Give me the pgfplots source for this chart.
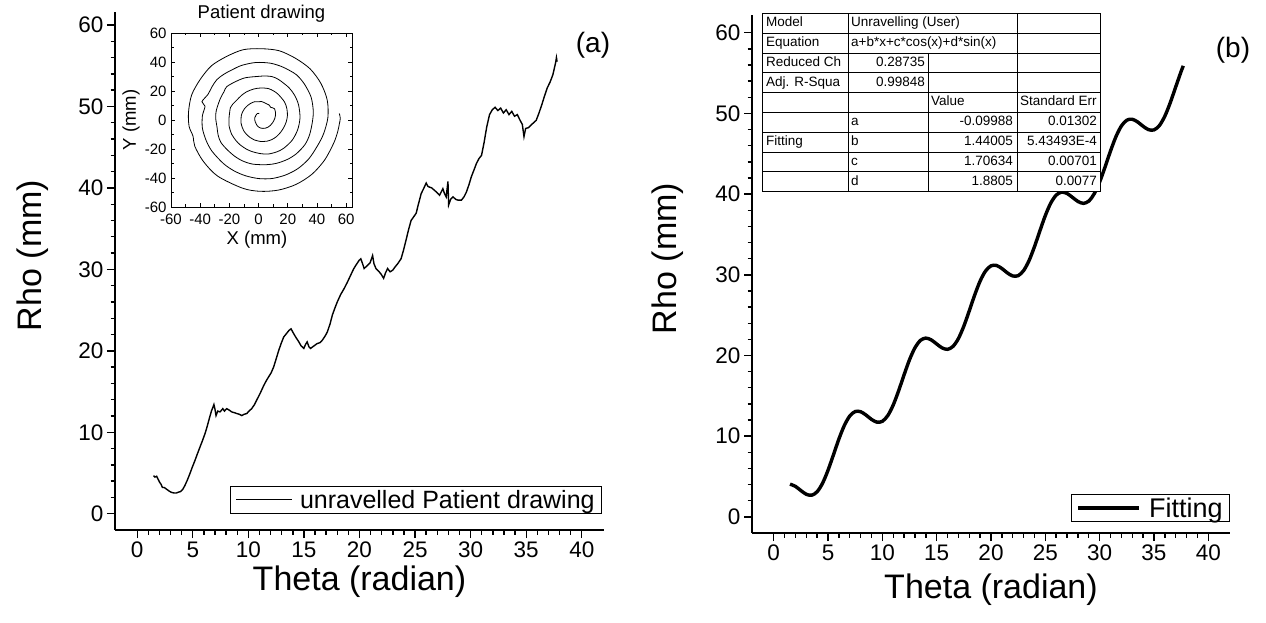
\documentclass[border=0pt]{standalone}
\usepackage{fontspec}
\setmainfont{Liberation Sans}
\usepackage{pgfplots}
\pgfplotsset{compat=1.18}
\usepackage{pgfplotstable}

\pgfplotstableread[row sep=\\]{
theta rho\\
1.47 4.67\\ 1.60 4.50\\ 1.75 4.60\\ 1.87 4.25\\ 2.02 3.85\\ 2.15 3.60\\ 2.26 3.24\\ 2.45 3.20\\
2.62 3.03\\ 2.85 2.80\\ 3.07 2.62\\ 3.30 2.55\\ 3.53 2.54\\ 3.70 2.65\\ 3.89 2.71\\ 4.10 3.00\\
4.28 3.44\\ 4.50 4.10\\ 4.73 4.88\\ 4.95 5.70\\ 5.19 6.52\\ 5.40 7.30\\ 5.64 8.16\\ 5.85 8.90\\
6.09 9.80\\ 6.25 10.5\\ 6.39 11.2\\ 6.55 12.0\\ 6.70 12.7\\ 6.82 13.1\\ 6.90 13.4\\ 7.00 12.8\\
7.09 12.05\\ 7.25 12.6\\ 7.45 12.5\\ 7.70 12.9\\ 7.85 12.6\\ 8.05 12.9\\ 8.30 12.7\\ 8.50 12.5\\
8.75 12.4\\ 8.96 12.3\\ 9.20 12.2\\ 9.41 12.05\\ 9.60 12.2\\ 9.86 12.3\\ 10.05 12.6\\ 10.30 12.9\\
10.55 13.4\\ 10.77 14.0\\ 11.07 14.8\\ 11.37 15.7\\ 11.60 16.3\\ 11.82 16.8\\ 12.05 17.3\\ 12.27 18.0\\
12.50 19.0\\ 12.72 20.0\\ 12.95 20.9\\ 13.18 21.7\\ 13.48 22.2\\ 13.65 22.5\\ 13.84 22.7\\ 14.08 22.1\\
14.30 21.6\\ 14.54 21.1\\ 14.75 20.6\\ 14.99 20.3\\ 15.15 20.8\\ 15.29 21.1\\ 15.45 20.5\\ 15.60 20.3\\
15.90 20.6\\ 16.20 20.9\\ 16.45 21.0\\ 16.65 21.3\\ 16.90 21.8\\ 17.10 22.3\\ 17.35 23.3\\ 17.56 24.4\\
17.80 25.3\\ 18.00 26.0\\ 18.30 26.9\\ 18.60 27.6\\ 18.90 28.4\\ 19.21 29.3\\ 19.45 30.0\\ 19.67 30.5\\
19.96 31.1\\ 20.12 31.3\\ 20.30 30.6\\ 20.42 30.1\\ 20.72 30.5\\ 20.95 30.8\\ 21.18 31.7\\ 21.30 30.7\\
21.48 30.1\\ 21.77 29.7\\ 21.95 29.4\\ 22.17 28.9\\ 22.35 29.6\\ 22.53 30.1\\ 22.75 29.7\\ 22.99 29.9\\
23.20 30.3\\ 23.44 30.7\\ 23.74 31.3\\ 23.95 32.3\\ 24.19 33.6\\ 24.40 34.8\\ 24.64 36.0\\ 24.85 36.4\\
25.10 36.9\\ 25.30 38.0\\ 25.55 39.3\\ 25.80 40.0\\ 26.00 40.6\\ 26.15 40.2\\ 26.30 40.1\\ 26.50 40.0\\
26.75 39.7\\ 27.00 39.4\\ 27.20 39.1\\ 27.35 39.5\\ 27.50 39.9\\ 27.65 39.3\\ 27.80 38.9\\ 27.96 40.8\\
28.02 37.9\\ 28.20 38.6\\ 28.42 38.9\\ 28.65 38.6\\ 28.87 38.5\\ 29.17 38.5\\ 29.40 38.9\\ 29.62 39.5\\
29.85 40.4\\ 30.07 41.4\\ 30.30 42.2\\ 30.52 43.0\\ 30.75 43.6\\ 30.98 44.0\\ 31.20 45.5\\ 31.45 47.5\\
31.70 49.0\\ 31.95 49.6\\ 32.20 49.9\\ 32.45 49.5\\ 32.70 49.8\\ 32.95 49.2\\ 33.20 49.6\\ 33.45 49.0\\
33.70 49.4\\ 33.95 48.8\\ 34.20 49.0\\ 34.45 48.3\\ 34.65 47.8\\ 34.80 46.3\\ 34.95 47.3\\ 35.20 47.4\\
35.50 47.8\\ 35.90 48.3\\ 36.15 49.2\\ 36.40 50.2\\ 36.65 51.3\\ 36.90 52.3\\ 37.15 53.0\\ 37.40 53.9\\
37.55 54.8\\ 37.65 55.4\\ 37.72 56.0\\ 37.78 55.5\\
}\rawdata

\pgfplotstableread[row sep=\\]{
theta rho\\
1.5 4.056\\ 2.0 3.780\\ 2.5 3.259\\ 3.0 2.798\\ 3.5 2.683\\ 4.0 3.122\\ 4.5 4.184\\ 5.0 5.790\\
5.5 7.703\\ 6.0 9.655\\ 6.5 11.329\\ 7.0 12.501\\ 7.5 13.056\\ 8.0 13.032\\ 8.5 12.615\\ 9.0 12.080\\
9.5 11.737\\ 10.0 11.845\\ 10.5 12.552\\ 11.0 13.866\\ 11.5 15.640\\ 12.0 17.613\\ 12.5 19.480\\ 13.0 20.959\\
13.5 21.867\\ 14.0 22.156\\ 14.5 21.934\\ 15.0 21.427\\ 15.5 20.939\\ 16.0 20.765\\ 16.5 21.124\\ 17.0 22.103\\
17.5 23.641\\ 18.0 25.537\\ 18.5 27.501\\ 19.0 29.231\\ 19.5 30.477\\ 20.0 31.113\\ 20.5 31.160\\ 21.0 30.781\\
21.5 30.244\\ 22.0 29.857\\ 22.5 29.894\\ 23.0 30.523\\ 23.5 31.756\\ 24.0 33.481\\ 24.5 35.445\\ 25.0 37.346\\
25.5 38.888\\ 26.0 39.879\\ 26.5 40.247\\ 27.0 40.081\\ 27.5 39.597\\ 28.0 39.091\\ 28.5 38.854\\ 29.0 39.135\\
29.5 40.035\\ 30.0 41.505\\ 30.5 43.368\\ 31.0 45.342\\ 31.5 47.121\\ 32.0 48.442\\ 32.5 49.162\\ 33.0 49.281\\
33.5 48.942\\ 34.0 48.410\\ 34.5 47.988\\ 35.0 47.956\\ 35.5 48.498\\ 36.0 49.660\\ 36.5 51.330\\ 37.0 53.276\\
37.5 55.202\\ 37.7 55.896\\
}\fitdata

\pgfplotsset{
  mainax/.style={
    scale only axis, anchor=south west,
    xmin=-2, xmax=42, ymin=-2,
    axis x line*=bottom, axis y line*=left,
    axis line style={line width=1.6pt, black},
    tick align=outside,
    every tick/.style={line width=1.4pt, black},
    major tick length=8pt, minor tick length=4.5pt,
    xtick={0,5,...,40}, ytick={0,10,...,60},
    minor x tick num=4, minor y tick num=4,
    ticklabel style={font=\fontsize{22.5}{22.5}\selectfont},
    /pgf/number format/assume math mode=true,
    label style={font=\fontsize{34}{34}\selectfont},
    xlabel={Theta (radian)}, ylabel={Rho (mm)},
    legend cell align=left,
  },
}

\begin{document}
\begin{tikzpicture}
\useasboundingbox (0,0) rectangle (1266pt,622pt);

% ---------- panel (a) ----------
\begin{axis}[mainax, at={(115pt,92pt)}, width=489pt, height=518pt, ymax=61.6,
  ylabel style={at={(axis description cs:-0.168,0.53)}, anchor=center},
  xlabel style={at={(axis description cs:0.5,-0.10)}, anchor=center},
  legend style={at={(0.996,0.031)}, anchor=south east, draw=black, line width=0.8pt,
    fill=white, font=\fontsize{25}{25}\selectfont, inner xsep=5pt, inner ysep=2pt},
  legend image code/.code={\draw[#1] (0pt,0pt) -- (56pt,0pt); \path (61pt,0pt);}]
\addplot[black, line width=1.4pt] table[x=theta, y=rho] {\rawdata};
\addlegendentry{unravelled Patient drawing}
\end{axis}

% ---------- inset ----------
\begin{axis}[at={(171pt,415pt)}, anchor=south west, scale only axis,
  width=181pt, height=174pt,
  xmin=-60, xmax=64, ymin=-60, ymax=60,
  xtick={-60,-40,...,60}, ytick={-60,-40,...,60}, minor tick num=1,
  tick align=inside, major tick length=4pt, minor tick length=2.5pt,
  axis line style={line width=0.8pt, black},
  every tick/.style={line width=0.6pt, black},
  ticklabel style={font=\fontsize{15}{15}\selectfont},
  xticklabel style={yshift=-3pt},
  yticklabel style={xshift=-1pt},
  /pgf/number format/assume math mode=true,
  title={Patient drawing},
  title style={font=\fontsize{18.5}{18.5}\selectfont, at={(0.5,1)}, anchor=base, yshift=8pt},
  xlabel={X (mm)}, ylabel={Y (mm)},
  label style={font=\fontsize{18.5}{18.5}\selectfont},
  xlabel style={at={(axis description cs:0.475,-0.19)}, anchor=center},
  ylabel style={at={(axis description cs:-0.22,0.5)}, anchor=center}]
\addplot[black, line width=0.8pt, smooth] table[
  x expr={\thisrow{rho}*cos(deg(\thisrow{theta}))},
  y expr={\thisrow{rho}*sin(deg(\thisrow{theta}))}] {\rawdata};
\end{axis}

% ---------- panel (b) ----------
\begin{axis}[mainax, at={(752pt,89pt)}, width=478pt, height=518pt, ymax=62.2,
  ylabel style={at={(axis description cs:-0.176,0.53)}, anchor=center},
  xlabel style={at={(axis description cs:0.5,-0.11)}, anchor=center},
  legend style={at={(1.0,0.021)}, anchor=south east, draw=black, line width=0.8pt,
    fill=white, font=\fontsize{27}{27}\selectfont, inner xsep=5pt, inner ysep=1pt},
  legend image code/.code={\draw[#1] (0pt,0pt) -- (61pt,0pt); \path (67pt,0pt);}]
\addplot[black, line width=3.4pt, smooth] table[x=theta, y=rho] {\fitdata};
\addlegendentry{Fitting}
\end{axis}

\node[font=\fontsize{28}{28}\selectfont] at (593pt,577pt) {(a)};
\node[font=\fontsize{28}{28}\selectfont] at (1233pt,572pt) {(b)};

% ---------- fit table ----------
\begin{scope}[yshift=622pt, x=1pt, y=-1pt,
  tl/.style={anchor=west, inner sep=0pt, font=\fontsize{13.5}{13.5}\selectfont, text height=9.5pt, text depth=2.5pt},
  tr/.style={tl, anchor=east}]
  \fill[white] (762,13.3) rectangle (1100,191.5);
  \draw[line width=0.7pt] (762,13.3) rectangle (1100,191.5);
  \foreach \yy in {33.1,52.9,72.7,92.5,112.3,132.1,151.9,171.7}
    \draw[line width=0.6pt] (762,\yy) -- (1100,\yy);
  \draw[line width=0.6pt] (848,13.3) -- (848,191.5);
  \draw[line width=0.6pt] (1017,13.3) -- (1017,191.5);
  \draw[line width=0.6pt] (928,52.9) -- (928,191.5);
  \node[tl] at (766,23.2) {Model};
  \node[tl] at (851,23.2) {Unravelling (User)};
  \node[tl] at (766,43.0) {Equation};
  \node[tl] at (851,43.0) {a+b*x+c*cos(x)+d*sin(x)};
  \node[tl] at (766,62.8) {Reduced Ch};
  \node[tr] at (925,62.8) {0.28735};
  \node[tl] at (766,82.6) {Adj. R-Squa};
  \node[tr] at (925,82.6) {0.99848};
  \node[tl] at (931,102.4) {Value};
  \node[tl] at (1020,102.4) {Standard Err};
  \node[tl] at (851,122.2) {a};
  \node[tr] at (1013,122.2) {-0.09988};
  \node[tr] at (1097,122.2) {0.01302};
  \node[tl] at (766,142.0) {Fitting};
  \node[tl] at (851,142.0) {b};
  \node[tr] at (1013,142.0) {1.44005};
  \node[tr] at (1097,142.0) {5.43493E-4};
  \node[tl] at (851,161.8) {c};
  \node[tr] at (1013,161.8) {1.70634};
  \node[tr] at (1097,161.8) {0.00701};
  \node[tl] at (851,181.6) {d};
  \node[tr] at (1013,181.6) {1.8805};
  \node[tr] at (1097,181.6) {0.0077};
\end{scope}
\end{tikzpicture}
\end{document}
